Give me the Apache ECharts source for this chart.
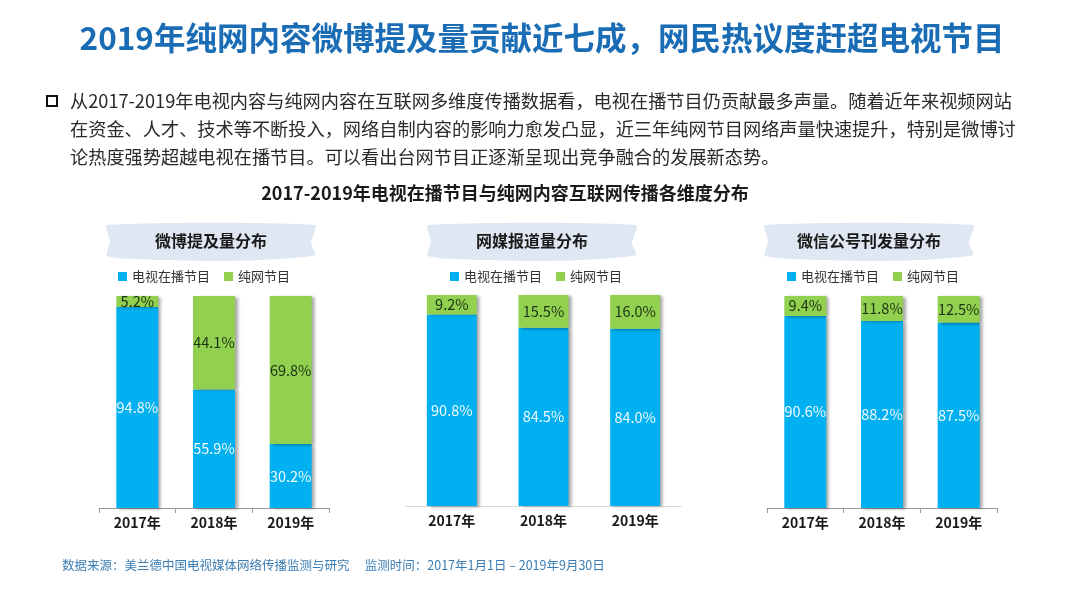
<!DOCTYPE html>
<html>
<head>
<meta charset="utf-8">
<script src="https://cdn.jsdelivr.net/npm/echarts@6/dist/echarts.min.js"></script>
<style>
html,body{margin:0;padding:0;background:#fff;}
#c{width:1080px;height:608px;}
</style>
</head>
<body>
<div id="c"></div>
<script>
var categories = ['2017年', '2018年', '2019年'];
var seriesNames = ['电视在播节目', '纯网节目'];
var panelTitles = ['微博提及量分布', '网媒报道量分布', '微信公号刊发量分布'];
var weiboTV = [94.8, 55.9, 30.2];
var weiboNet = [5.2, 44.1, 69.8];
var mediaTV = [90.8, 84.5, 84.0];
var mediaNet = [9.2, 15.5, 16.0];
var wechatTV = [90.6, 88.2, 87.5];
var wechatNet = [9.4, 11.8, 12.5];

var mainTitle = '2019年纯网内容微博提及量贡献近七成，网民热议度赶超电视节目';
var paraLines = [
  '从2017-2019年电视内容与纯网内容在互联网多维度传播数据看，电视在播节目仍贡献最多声量。随着近年来视频网站',
  '在资金、人才、技术等不断投入，网络自制内容的影响力愈发凸显，近三年纯网节目网络声量快速提升，特别是微博讨',
  '论热度强势超越电视在播节目。可以看出台网节目正逐渐呈现出竞争融合的发展新态势。'
];
var subTitle = '2017-2019年电视在播节目与纯网内容互联网传播各维度分布';
var footer = '数据来源：美兰德中国电视媒体网络传播监测与研究　 监测时间：2017年1月1日 – 2019年9月30日';

var FONT = '"Noto Sans CJK SC", "Microsoft YaHei", sans-serif';
var BLUE = '#00b0f0', GREEN = '#92d050';

var panels = [
  {tv: weiboTV, net: weiboNet, grid: {left: 99, width: 230, top: 296, height: 212}, barW: 42, ticks: true,
   banner: [107, 225, 208], legendLeft: 113},
  {tv: mediaTV, net: mediaNet, grid: {left: 406, width: 275, top: 295, height: 211}, barW: 50, ticks: false,
   banner: [428, 225, 208], legendLeft: 445},
  {tv: wechatTV, net: wechatNet, grid: {left: 767, width: 230, top: 296, height: 212}, barW: 42, ticks: true,
   banner: [765, 225, 208], legendLeft: 782}
];

function fmt(p){ return p.value.toFixed(1) + '%'; }

var grids = [], xAxes = [], yAxes = [], series = [], legends = [], graphics = [];

panels.forEach(function(p, i){
  grids.push(p.grid);
  xAxes.push({
    type: 'category', gridIndex: i, data: categories,
    axisLine: {lineStyle: {color: p.ticks ? '#9a9a9a' : '#d8d8d8', width: 1}},
    axisTick: {show: p.ticks, length: 5, lineStyle: {color: '#9a9a9a'}},
    axisLabel: {fontFamily: FONT, fontSize: 14, fontWeight: 'bold', color: '#1a1a1a', margin: 8}
  });
  yAxes.push({type: 'value', gridIndex: i, min: 0, max: 100, show: false, splitLine: {show: false}});
  var shadow = {shadowColor: 'rgba(0,0,0,0.35)', shadowBlur: 3, shadowOffsetX: 3, shadowOffsetY: 1};
  series.push({
    name: seriesNames[0], type: 'bar', stack: 's' + i, xAxisIndex: i, yAxisIndex: i,
    data: p.tv, barWidth: p.barW,
    itemStyle: Object.assign({color: BLUE}, shadow),
    label: {show: true, position: 'inside', formatter: fmt, fontFamily: FONT, fontSize: 14.5, color: '#eefaff'}
  });
  series.push({
    name: seriesNames[1], type: 'bar', stack: 's' + i, xAxisIndex: i, yAxisIndex: i,
    data: p.net, barWidth: p.barW,
    itemStyle: Object.assign({color: GREEN}, shadow),
    label: {show: true, position: 'inside', formatter: fmt, fontFamily: FONT, fontSize: 14.5, color: '#1c3314'}
  });
  legends.push({
    data: seriesNames, left: p.legendLeft, top: 265, itemWidth: 9, itemHeight: 9, itemGap: 14,
    icon: 'rect', textStyle: {fontFamily: FONT, fontSize: 13, color: '#333'}, selectedMode: false
  });
  var bx = p.banner[0], by = p.banner[1], bw = p.banner[2];
  graphics.push({
    type: 'polygon', silent: true,
    shape: {points: [
      [bx, by], [bx + bw, by], [bx + bw - 4, by + 18], [bx + bw, by + 30],
      [bx + bw * 0.75, by + 35], [bx + bw * 0.5, by + 36], [bx + bw * 0.25, by + 35], [bx, by + 31], [bx + 3, by + 16]
    ], smooth: 0.2},
    style: {fill: '#dfe8f2'}
  });
  graphics.push({
    type: 'text', silent: true, x: bx + bw / 2, y: by + 16,
    style: {text: panelTitles[i], fontFamily: FONT, fontSize: 16, fontWeight: 'bold', fill: '#1a1a1a', align: 'center', verticalAlign: 'middle'}
  });
});

graphics.push({
  type: 'text', silent: true, x: 542, y: 38,
  style: {text: mainTitle, fontFamily: FONT, fontSize: 31.5, fontWeight: 'bold', fill: '#1a6db5', align: 'center', verticalAlign: 'middle'}
});
graphics.push({
  type: 'rect', silent: true, shape: {x: 47, y: 96, width: 10, height: 10},
  style: {fill: 'none', stroke: '#111', lineWidth: 2}
});
paraLines.forEach(function(t, k){
  graphics.push({
    type: 'text', silent: true, x: 70, y: 101 + k * 28,
    style: {text: t, fontFamily: FONT, fontSize: 18.2, fill: '#2a2a2a', align: 'left', verticalAlign: 'middle'}
  });
});
graphics.push({
  type: 'text', silent: true, x: 505, y: 193,
  style: {text: subTitle, fontFamily: FONT, fontSize: 18, fontWeight: 'bold', fill: '#1a1a1a', align: 'center', verticalAlign: 'middle'}
});
graphics.push({
  type: 'text', silent: true, x: 62, y: 565,
  style: {text: footer, fontFamily: FONT, fontSize: 12.5, fill: '#3c7db3', align: 'left', verticalAlign: 'middle'}
});

var chart = echarts.init(document.getElementById('c'), null, {renderer: 'canvas'});
chart.setOption({
  backgroundColor: '#ffffff',
  animation: false,
  grid: grids,
  xAxis: xAxes,
  yAxis: yAxes,
  legend: legends,
  series: series,
  graphic: graphics
});
</script>
</body>
</html>
